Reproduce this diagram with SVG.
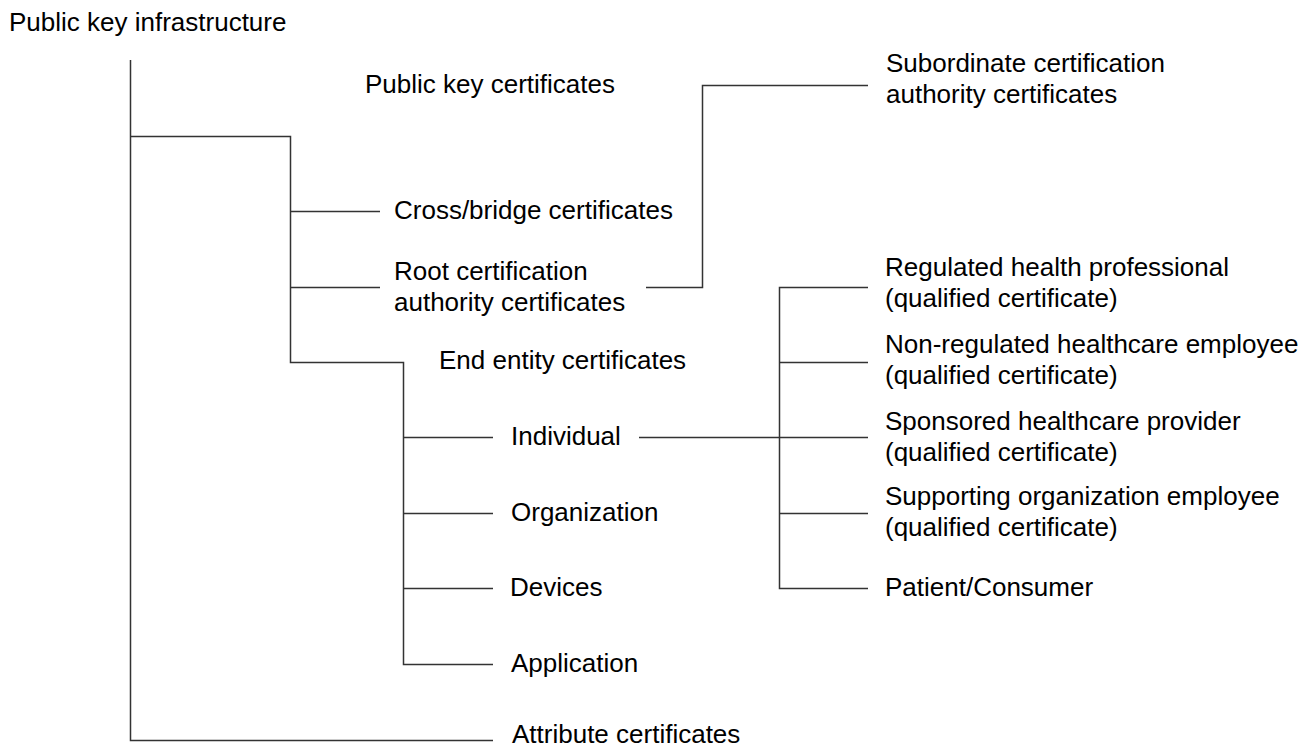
<svg xmlns="http://www.w3.org/2000/svg" width="1306" height="749" viewBox="0 0 1306 749">
<style>
.t{font-family:"Liberation Sans",Arial,Helvetica,sans-serif;font-size:26px;fill:#000}
.c{fill:none;stroke:#333;stroke-width:1.5}
</style>
<rect width="1306" height="749" fill="#fff"/>
<g id="connectors">
<path class="c" d="M130.5,60 V740.5 H493"/>
<path class="c" d="M130.5,136.5 H290.5 V362.5 H403.5 V664.5 H493"/>
<path class="c" d="M290.5,211.5 H380"/>
<path class="c" d="M290.5,287.5 H380"/>
<path class="c" d="M403.5,437.5 H493"/>
<path class="c" d="M403.5,513.5 H493"/>
<path class="c" d="M403.5,588.5 H493"/>
<path class="c" d="M646,287.5 H702.5 V85.5 H868"/>
<path class="c" d="M639,437.5 H868"/>
<path class="c" d="M868,287.5 H779.5 V588.5 H868"/>
<path class="c" d="M779.5,362.5 H868"/>
<path class="c" d="M779.5,513.5 H868"/>
</g>
<g id="pki"><text class="t" x="9" y="31">Public key infrastructure</text></g>
<g id="pkc"><text class="t" x="365" y="93">Public key certificates</text></g>
<g id="subordinate"><text class="t" x="886" y="72">Subordinate certification</text><text class="t" x="886" y="103">authority certificates</text></g>
<g id="cross"><text class="t" x="394" y="219">Cross/bridge certificates</text></g>
<g id="root"><text class="t" x="394" y="280">Root certification</text><text class="t" x="394" y="311">authority certificates</text></g>
<g id="endentity"><text class="t" x="439" y="369">End entity certificates</text></g>
<g id="individual"><text class="t" x="511" y="445">Individual</text></g>
<g id="organization"><text class="t" x="511" y="521">Organization</text></g>
<g id="devices"><text class="t" x="510" y="596">Devices</text></g>
<g id="application"><text class="t" x="511" y="672">Application</text></g>
<g id="attribute"><text class="t" x="512" y="743">Attribute certificates</text></g>
<g id="regulated"><text class="t" x="885" y="276">Regulated health professional</text><text class="t" x="885" y="307">(qualified certificate)</text></g>
<g id="nonregulated"><text class="t" x="885" y="353">Non-regulated healthcare employee</text><text class="t" x="885" y="384">(qualified certificate)</text></g>
<g id="sponsored"><text class="t" x="885" y="430">Sponsored healthcare provider</text><text class="t" x="885" y="461">(qualified certificate)</text></g>
<g id="supporting"><text class="t" x="885" y="505">Supporting organization employee</text><text class="t" x="885" y="536">(qualified certificate)</text></g>
<g id="patient"><text class="t" x="885" y="596">Patient/Consumer</text></g>
</svg>
